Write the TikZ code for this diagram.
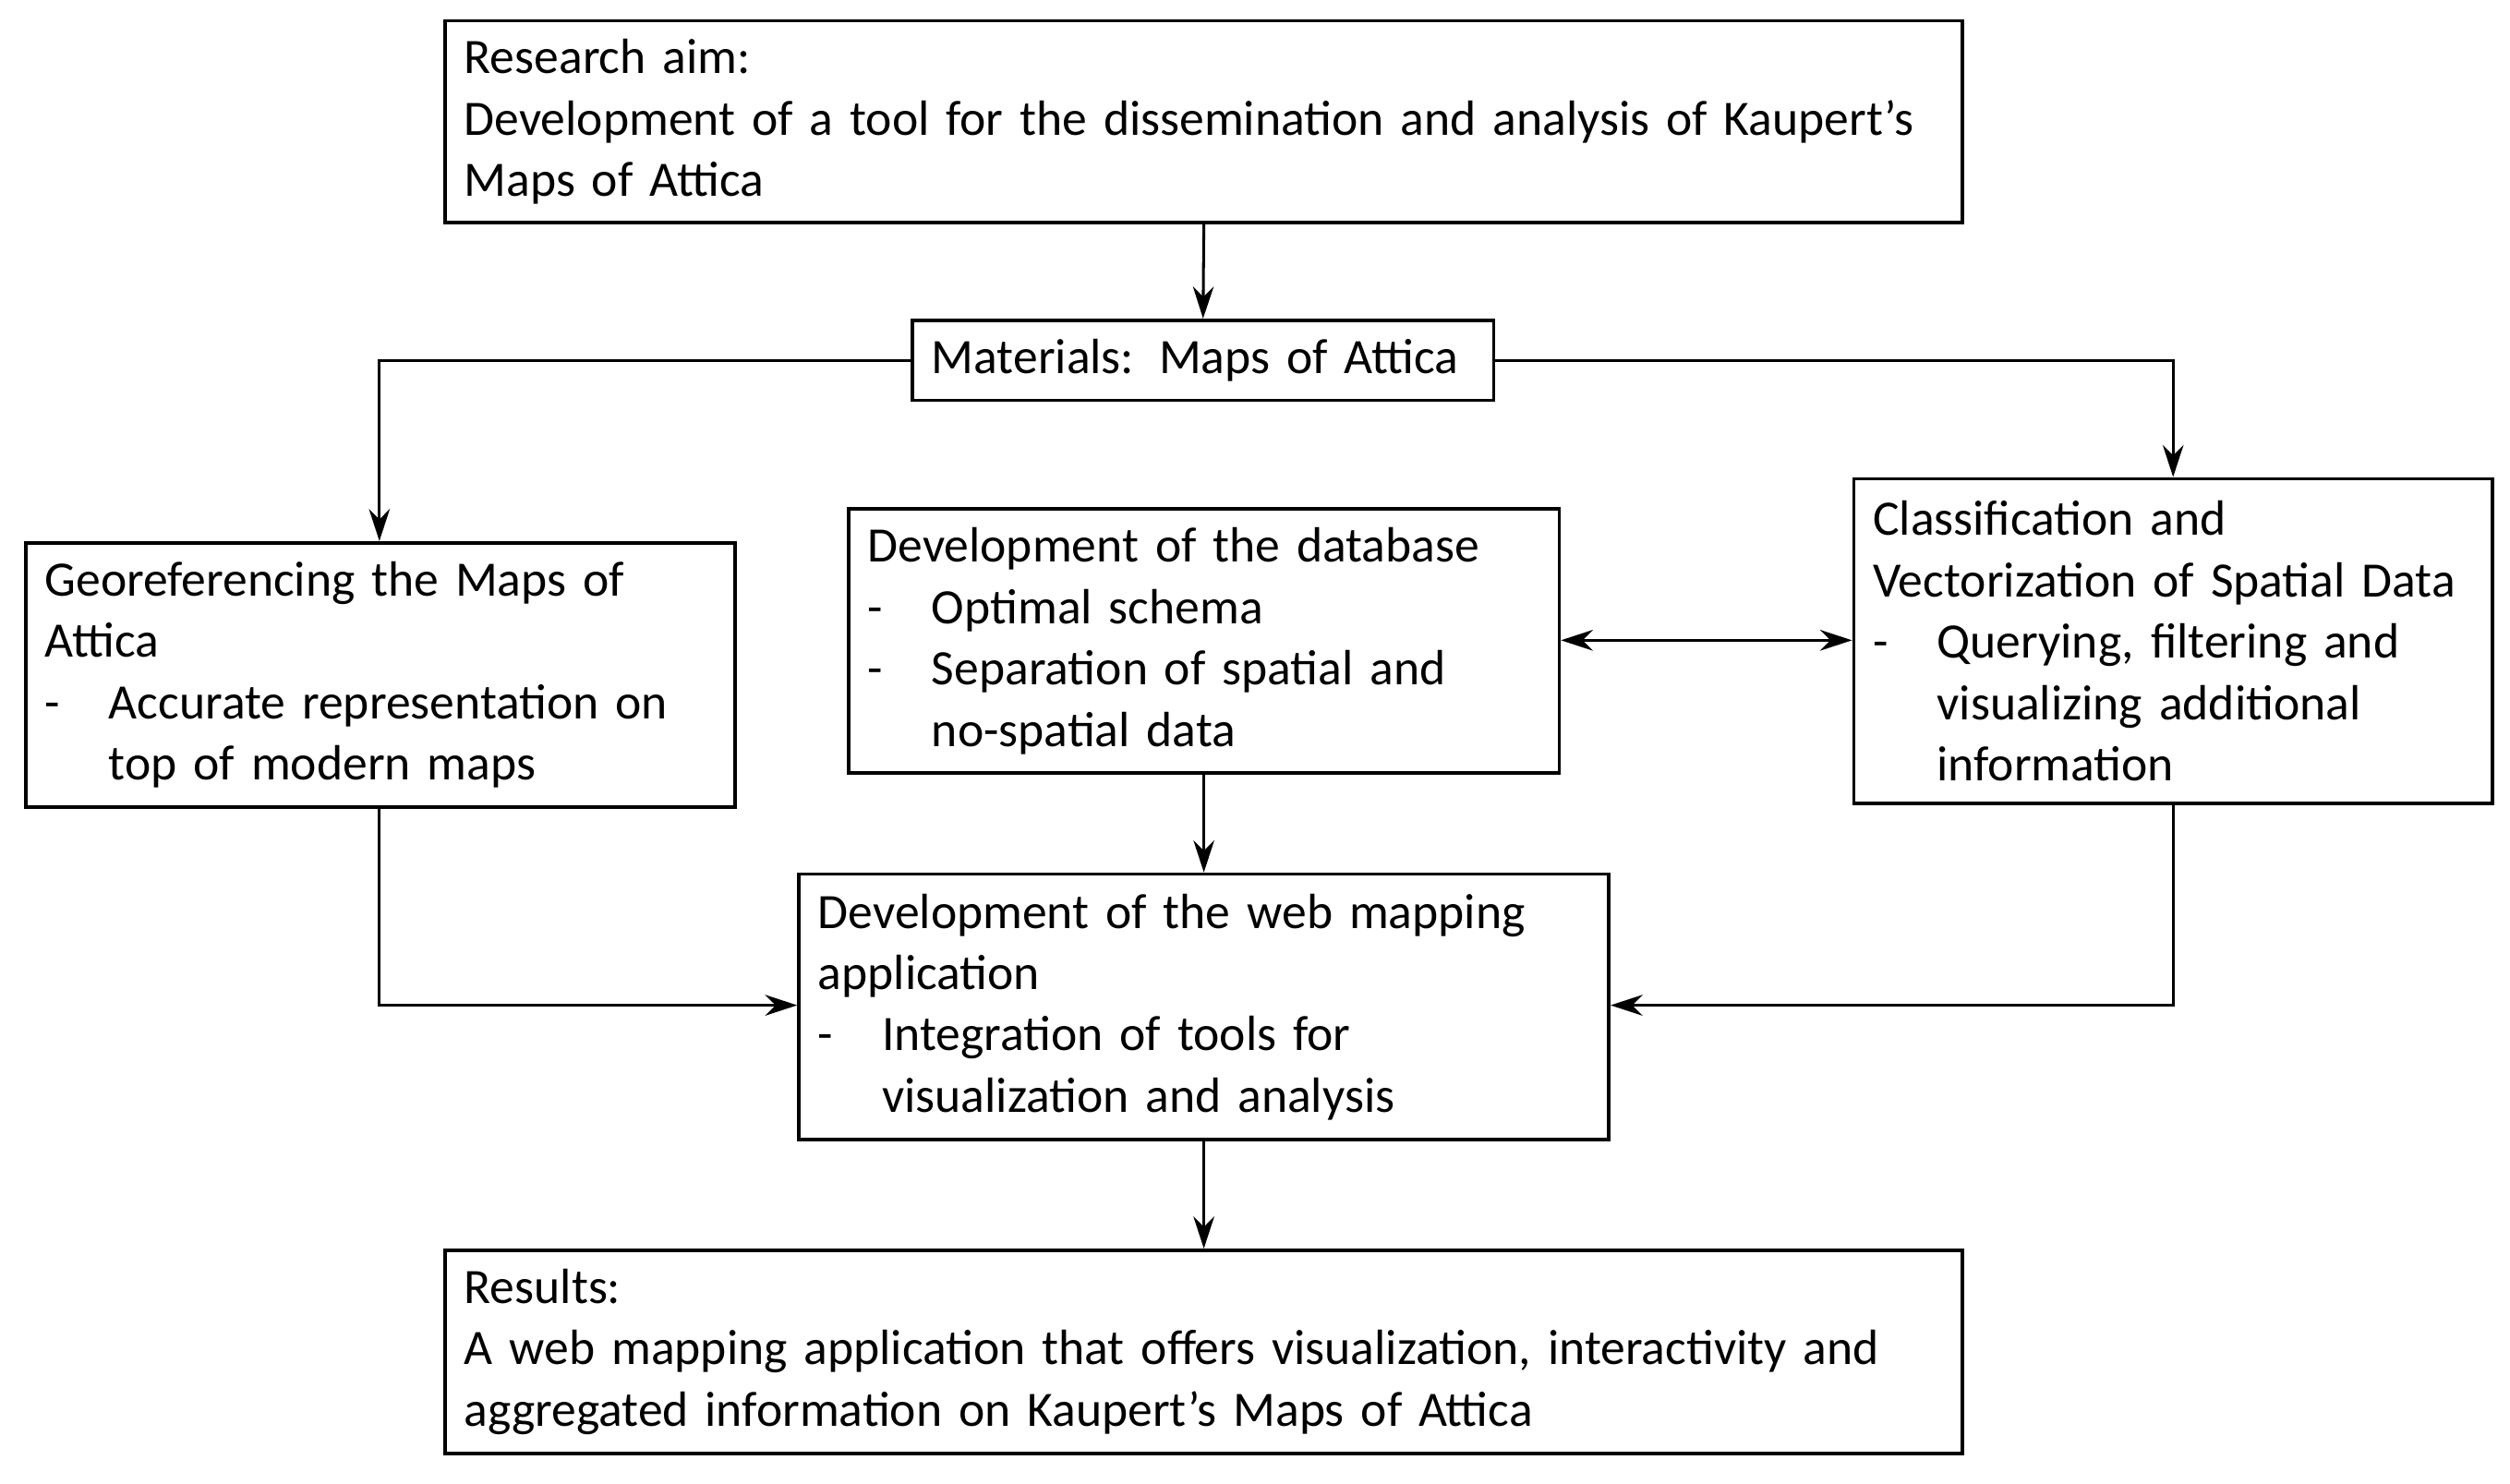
\documentclass[tikz,border=0pt]{standalone}
\usepackage{fontspec}
\setmainfont{Carlito}
\usetikzlibrary{arrows.meta}
\newcommand{\dash}{\makebox[4mm][l]{-}}
\newcommand{\cont}{\hspace*{4mm}}
\hyphenpenalty=10000
\begin{document}
\begin{tikzpicture}[x=0.1mm,y=-0.1mm,
  box/.style={draw,line width=0.6pt,align=left,inner xsep=1.2mm,inner ysep=0pt,
    font=\fontsize{8.8}{10.9}\selectfont,anchor=north west},
  arr/.style={draw,line width=0.5pt,-{Stealth[length=2mm,width=1.3mm]}}]
  \useasboundingbox (0,0) rectangle (1568,927);

  \node[box,text width=92.4mm,minimum height=12.6mm] (aim) at (277,12)
    {Research aim:\\Development of a tool for the dissemination and analysis of Kaupert’s\\Maps of Attica};
  \node[box,text width=33.9mm,minimum height=5mm] (mat) at (569,199)
    {Materials: Maps of Attica};
  \node[box,text width=41.9mm,minimum height=16.5mm] (geo) at (15,338)
    {Georeferencing the Maps of\\Attica\\\dash Accurate representation on\\\cont top of modern maps};
  \node[box,text width=42mm,minimum height=16.5mm] (db) at (529,317)
    {Development of the database\\\dash Optimal schema\\\dash Separation of spatial and\\\cont no-spatial data};
  \node[box,text width=37.5mm,minimum height=20.3mm] (cls) at (1157,298)
    {Classification and\\Vectorization of Spatial Data\\\dash Querying, filtering and\\\cont visualizing additional\\\cont information};
  \node[box,text width=48.2mm,minimum height=16.6mm] (web) at (498,545)
    {Development of the web mapping\\application\\\dash Integration of tools for\\\cont visualization and analysis};
  \node[box,text width=92.4mm,minimum height=12.7mm] (res) at (277,780)
    {Results:\\A web mapping application that offers visualization, interactivity and\\aggregated information on Kaupert's Maps of Attica};

  % connectors
  \path[arr] (aim.south) -- (mat.north);
  \path[arr] (mat.west) -| (geo.north -| 237,0);
  \path[arr] (mat.east) -| (cls.north);
  \path[draw,line width=0.5pt,{Stealth[length=2mm,width=1.3mm]}-{Stealth[length=2mm,width=1.3mm]}]
    (db.east |- 0,400) -- (cls.west |- 0,400);
  \path[arr] (db.south) -- (web.north -| db.south);
  \path[arr] (geo.south -| 237,0) |- (web.west |- 0,628);
  \path[arr] (cls.south) |- (web.east |- 0,628);
  \path[arr] (web.south -| aim.south) -- (res.north);
\end{tikzpicture}
\end{document}
